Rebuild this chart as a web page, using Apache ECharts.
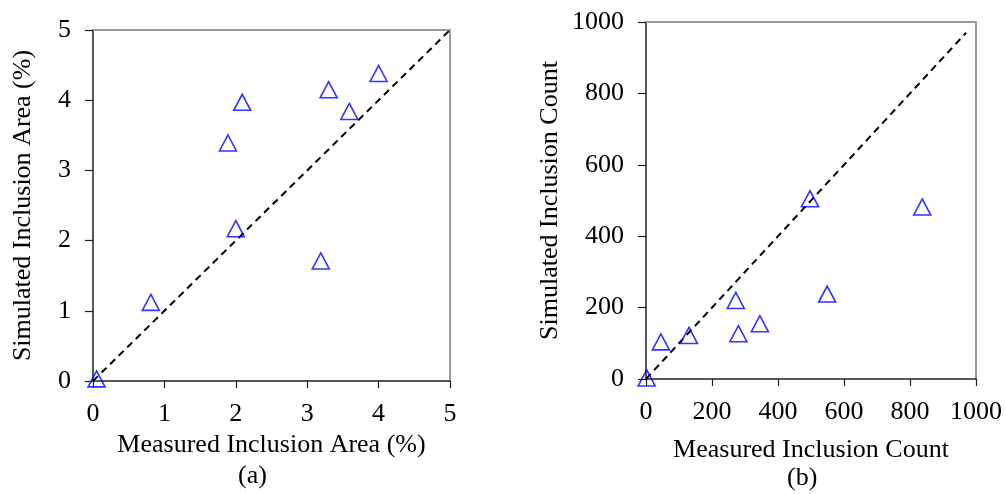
<!DOCTYPE html>
<html>
<head>
<meta charset="utf-8">
<script src="https://cdn.jsdelivr.net/npm/echarts@6/dist/echarts.min.js"></script>
<style>
  html, body { margin: 0; padding: 0; background: #ffffff; }
  #chart { width: 1006px; height: 494px; }
</style>
</head>
<body>
<div id="chart"></div>
<script>
// (a) inclusion area, percent: measured vs simulated
const areaMeasured  = [0.05, 0.81, 1.89, 2.09, 2.00, 3.19, 3.30, 3.59, 4.00];
const areaSimulated = [0.03, 1.12, 3.39, 3.97, 2.17, 1.71, 4.15, 3.84, 4.38];

// (b) inclusion count: measured vs simulated
const countMeasured  = [2, 45, 130, 272, 280, 345, 497, 549, 837];
const countSimulated = [3, 104, 122, 220, 127, 155, 505, 238, 482];

// 1:1 reference lines
const areaParity  = [[0, 0], [5, 5]];
const countParity = [[0, 0], [970, 970]];

// axis ranges and titles
const areaAxis  = { min: 0, max: 5, interval: 1 };
const countAxis = { min: 0, max: 1000, interval: 200 };
const titles = {
  areaX: 'Measured Inclusion Area (%)',
  areaY: 'Simulated Inclusion Area (%)',
  countX: 'Measured Inclusion Count',
  countY: 'Simulated Inclusion Count',
  panelA: '(a)',
  panelB: '(b)'
};

const FONT = 'Liberation Serif, Times New Roman, serif';
const FS = 26;
const BLACK = '#000000';
const FRAME = '#9a9a9a';

function zip(xs, ys) { return xs.map((x, i) => [x, ys[i]]); }
const plain = v => String(v);

function mainX(gridIndex, range, name, nameGap) {
  return {
    type: 'value', gridIndex, min: range.min, max: range.max, interval: range.interval,
    position: 'bottom',
    name, nameLocation: 'middle', nameGap,
    nameTextStyle: { fontFamily: FONT, fontSize: FS, color: BLACK },
    axisLine: { show: true, lineStyle: { color: '#222222', width: 1.5 } },
    axisTick: { show: true, inside: false, length: 7, lineStyle: { color: '#222222', width: 1.2 } },
    axisLabel: { margin: 20, fontFamily: FONT, fontSize: FS, color: BLACK, formatter: plain },
    splitLine: { show: false }
  };
}
function mainY(gridIndex, range, name, nameGap) {
  return {
    type: 'value', gridIndex, min: range.min, max: range.max, interval: range.interval,
    position: 'left',
    name, nameLocation: 'middle', nameGap,
    nameTextStyle: { fontFamily: FONT, fontSize: FS, color: BLACK },
    axisLine: { show: true, lineStyle: { color: '#222222', width: 1.5 } },
    axisTick: { show: true, inside: false, length: 8, lineStyle: { color: '#222222', width: 1.2 } },
    axisLabel: { margin: 22, fontFamily: FONT, fontSize: FS, color: BLACK, formatter: plain },
    splitLine: { show: false }
  };
}
// plain frame edges along the top and right of each plot
function frameAxis(gridIndex, range, position) {
  return {
    type: 'value', gridIndex, min: range.min, max: range.max, position,
    axisLine: { show: true, onZero: false, lineStyle: { color: FRAME, width: 2 } },
    axisTick: { show: false }, axisLabel: { show: false }, splitLine: { show: false }
  };
}

function scatter(xi, yi, data) {
  return {
    type: 'scatter', xAxisIndex: xi, yAxisIndex: yi, data,
    symbol: 'triangle', symbolSize: [17, 16],
    itemStyle: { color: 'rgba(0,0,0,0)', borderColor: '#0000ff', borderWidth: 1.6 },
    z: 5
  };
}
function parity(xi, yi, data) {
  return {
    type: 'line', xAxisIndex: xi, yAxisIndex: yi, data,
    symbol: 'none', silent: true,
    lineStyle: { color: '#000000', width: 2, type: [7, 5] },
    z: 3
  };
}

const chart = echarts.init(document.getElementById('chart'), null, { renderer: 'canvas' });
chart.setOption({
  backgroundColor: '#ffffff',
  animation: false,
  grid: [
    { left: 93, top: 30, width: 357, height: 351 },
    { left: 646, top: 22, width: 330, height: 357 }
  ],
  xAxis: [
    mainX(0, areaAxis, titles.areaX, 51),
    mainX(1, countAxis, titles.countX, 58),
    frameAxis(0, areaAxis, 'top'),
    frameAxis(1, countAxis, 'top')
  ],
  yAxis: [
    mainY(0, areaAxis, titles.areaY, 57),
    mainY(1, countAxis, titles.countY, 83),
    frameAxis(0, areaAxis, 'right'),
    frameAxis(1, countAxis, 'right')
  ],
  graphic: [
    { type: 'text', left: 238, top: 463, style: { text: titles.panelA, font: FS + 'px ' + FONT, fill: BLACK } },
    { type: 'text', left: 787, top: 465, style: { text: titles.panelB, font: FS + 'px ' + FONT, fill: BLACK } }
  ],
  series: [
    parity(0, 0, areaParity),
    scatter(0, 0, zip(areaMeasured, areaSimulated)),
    parity(1, 1, countParity),
    scatter(1, 1, zip(countMeasured, countSimulated))
  ]
});
</script>
</body>
</html>
